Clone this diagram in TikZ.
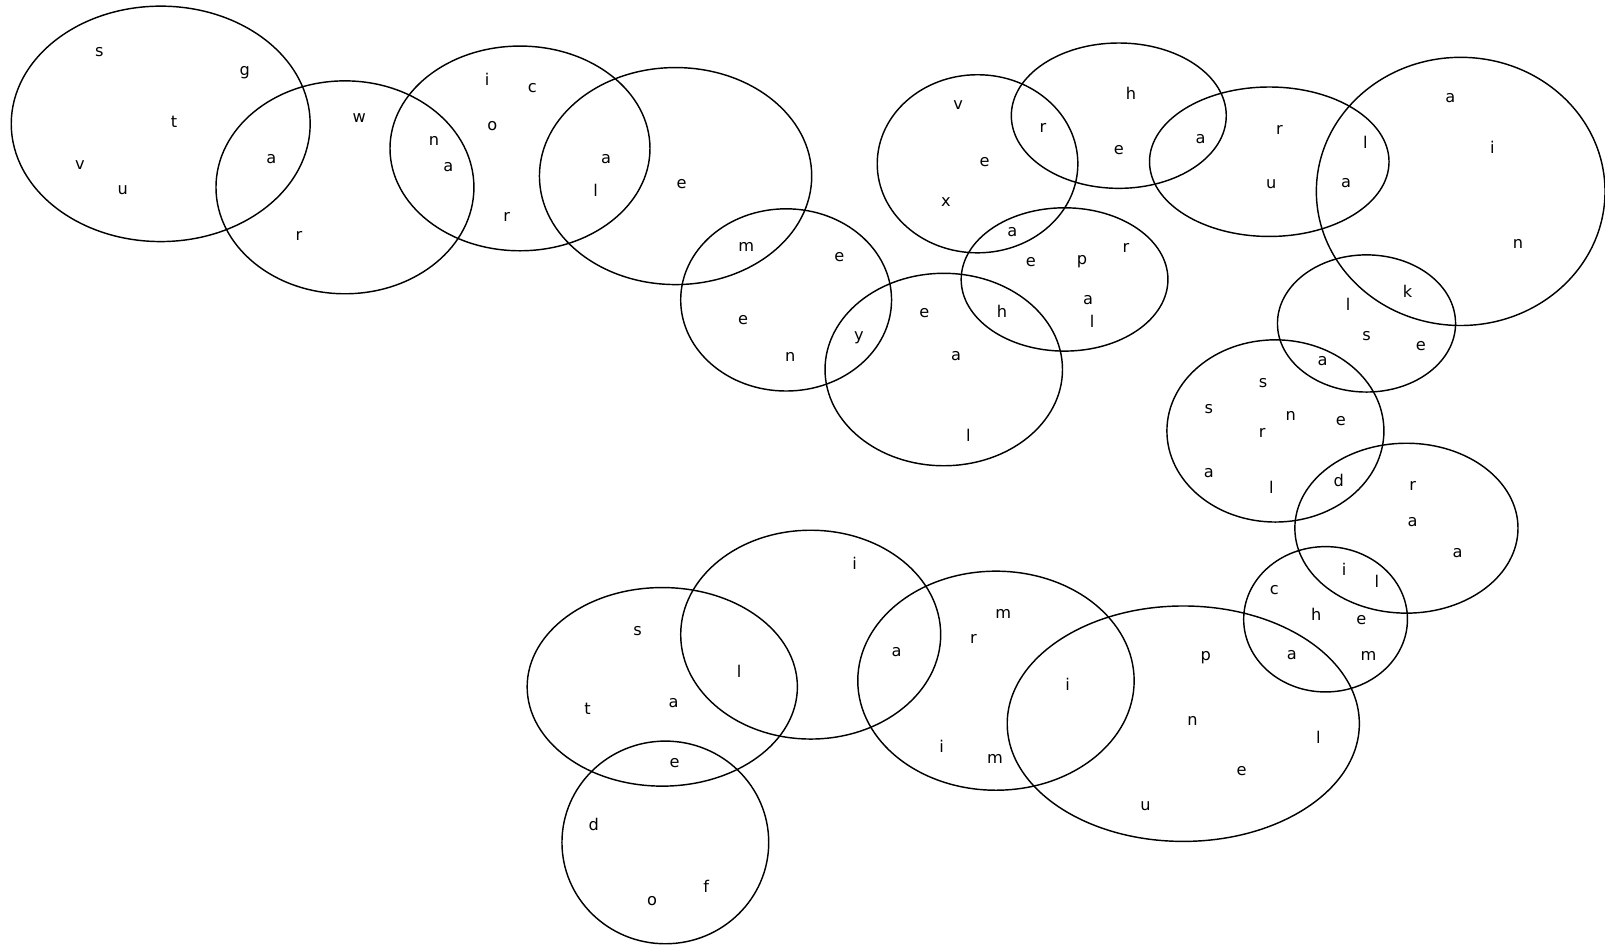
\documentclass[tikz,border=0pt]{standalone}
\usepackage{fontspec}
\setmainfont{DejaVu Sans}

\begin{document}
\begin{tikzpicture}[x=0.02cm,y=-0.02cm,font=\fontsize{9}{11}\selectfont,
  ring/.style={line width=0.8pt},letter/.style={inner sep=0pt}]
 \useasboundingbox (0,0) rectangle (1568,923);
 % the rings
 \foreach \cx/\cy/\rx/\ry in {157/121/146/115,337/183/126/104,508/145/127/100,660/172/133/106,
   768/293/103/89,922/361/116/94,955/160/98/87,1093/113/105/71,1040/273/101/70,
   1240/158/117/73,1427/187/141/131,1335/316/87/67,1246/421/106/89,1374/516/109/83,
   1295/605/80/71,1156/707/172/115,973/665/135/107,792/620/127/102,647/671/132/97,650/823/101/99}
  {\draw[ring] (\cx,\cy) ellipse [x radius=\rx,y radius=\ry];}
 % the letters
 \foreach \x/\y/\t [count=\i] in {97/51/s,239/71/g,170/119/t,78/161/v,120/186/u,265/155/a,
   351/115/w,292/231/r,424/138/n,438/163/a,476/78/i,520/86/c,481/123/o,495/212/r,
   592/155/a,582/186/l,666/180/e,729/241/m,
   820/251/e,726/313/e,772/349/n,839/330/y,
   903/306/e,934/348/a,946/425/l,979/304/h,
   936/103/v,962/158/e,924/197/x,1019/125/r,989/227/a,
   1105/91/h,1093/147/e,1173/136/a,
   1007/256/e,1057/256/p,1100/242/r,1063/293/a,1067/314/l,
   1250/127/r,1242/180/u,1334/139/l,1315/179/a,
   1417/96/a,1458/144/i,1483/238/n,1375/285/k,
   1317/297/l,1335/328/s,1388/338/e,1292/353/a,
   1234/374/s,1181/400/s,1261/406/n,1310/411/e,1233/423/r,1181/462/a,1242/476/l,1308/469/d,
   1380/475/r,1380/510/a,1424/540/a,1313/556/i,1345/568/l,
   1245/576/c,1286/600/h,1330/606/e,1262/640/a,1337/641/m,
   1178/642/p,1165/704/n,1288/720/l,1213/753/e,1119/787/u,1043/669/i,
   980/600/m,951/624/r,876/637/a,920/729/i,972/741/m,
   835/550/i,722/656/l,
   623/617/s,574/692/t,658/687/a,659/745/e,
   580/805/d,637/880/o,690/866/f}
  {\node[letter] (l\i) at (\x,\y) {\t};}
\end{tikzpicture}
\end{document}
